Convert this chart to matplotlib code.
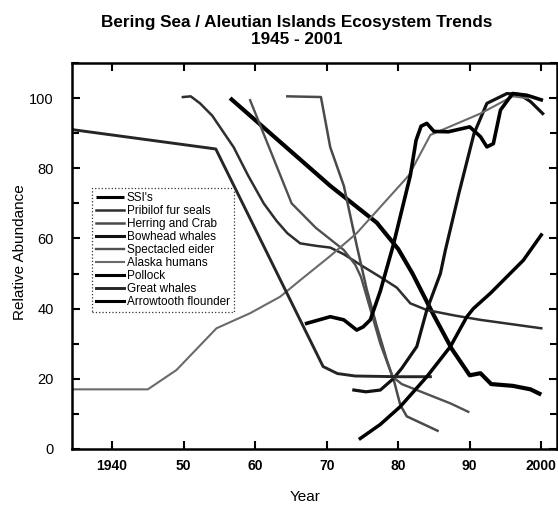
import matplotlib
matplotlib.use("Agg")
import matplotlib.pyplot as plt
from matplotlib.ticker import MultipleLocator, FixedLocator

plt.rcParams['font.family'] = ['Liberation Sans', 'DejaVu Sans']

# ---- data ----
ssi_years = [1956.5, 1970.5, 1977, 1980, 1982, 1985, 1987.5, 1990, 1991.5, 1993, 1996, 1998.5, 2000]
ssi_vals = [100, 75, 64.5, 57, 50, 38, 28.5, 21, 21.6, 18.5, 18, 17, 15.5]

fur_years = [1949.9, 1951, 1952.3, 1954, 1955.5, 1957, 1959, 1961.2, 1963, 1964.5, 1966.3, 1968.5, 1970.5, 1972.4, 1975.1, 1977.5, 1979.8, 1981.7, 1984, 1988, 1991.5, 2000]
fur_vals = [100.3, 100.5, 98.5, 95, 90.5, 86, 78, 70, 65, 61.5, 58.6, 57.9, 57.4, 55.5, 52, 49, 46, 41.5, 39.6, 38, 36.8, 34.4]

herring_years = [1964.5, 1969.2, 1970.5, 1972.4, 1974.2, 1975.6, 1977, 1978.4, 1979.4, 1980.3, 1981.2, 1985.5]
herring_vals = [100.5, 100.3, 86, 75, 58, 45.5, 35, 25.4, 19.5, 12.5, 9.3, 5.2]

bowhead_years = [1973.8, 1975.5, 1977.5, 1979.3, 1980.5, 1982.6, 1984, 1985.9, 1986.6, 1988.5, 1990.6, 1992.4, 1995.2, 1997, 1998.5, 2000.2]
bowhead_vals = [16.8, 16.3, 16.8, 20, 23, 29.2, 39.6, 50, 56.7, 73, 89.9, 98.5, 101.3, 101, 99, 95.6]

eider_years = [1959.3, 1965.1, 1968.5, 1972.4, 1974, 1974.8, 1975.8, 1977.5, 1979.2, 1980.5, 1982.6, 1987.3, 1989.8]
eider_vals = [99.4, 70, 63, 56.7, 52.5, 49, 42, 30, 20.6, 18.5, 16.8, 13, 10.6]

humans_years = [1934.5, 1945, 1949, 1954.6, 1959.3, 1963.5, 1966.3, 1970.5, 1974.2, 1981.5, 1984.5, 1991.5, 1996, 1998]
humans_vals = [17, 17, 22.5, 34.4, 38.7, 43.4, 48.1, 55, 61.5, 78, 89.5, 95.6, 100.5, 100]

pollock_years = [1967.2, 1970.5, 1972.4, 1974.2, 1975.1, 1976.1, 1977.5, 1979.3, 1981.7, 1982.5, 1983.2, 1984, 1985, 1987, 1990, 1991.5, 1992.4, 1993.3, 1994.3, 1996, 1998, 2000]
pollock_vals = [35.8, 37.7, 36.8, 33.9, 34.8, 36.8, 45, 58, 78, 88, 92, 92.8, 90.5, 90.4, 91.8, 89, 86.1, 87, 96.6, 101.3, 100.8, 99.5]

whales_years = [1934.5, 1954.5, 1969.5, 1971.5, 1974, 1980, 1984.5]
whales_vals = [91, 85.5, 23.5, 21.5, 20.8, 20.6, 20.6]

arrow_years = [1974.7, 1977.5, 1980.3, 1982, 1984, 1987.3, 1989.6, 1990.5, 1992.9, 1997.5, 2000]
arrow_vals = [3, 7, 12.1, 16, 20.6, 29.2, 37.7, 40, 44.4, 53.8, 61]

labels = ["SSI's", "Pribilof fur seals", "Herring and Crab", "Bowhead whales",
          "Spectacled eider", "Alaska humans", "Pollock", "Great whales",
          "Arrowtooth flounder"]

x_ticks = [1940, 1950, 1960, 1970, 1980, 1990, 2000]
x_tick_labels = ["1940", "50", "60", "70", "80", "90", "2000"]
y_ticks = [0, 20, 40, 60, 80, 100]

# ---- figure ----
fig = plt.figure(figsize=(5.58, 5.09), dpi=100)
ax = fig.add_axes([72/558, 1-449/509, (557-72)/558, (449-63)/509])

series = [
    (ssi_years, ssi_vals, dict(color='black', lw=3.0, solid_capstyle='butt')),
    (fur_years, fur_vals, dict(color='#2e2e2e', lw=1.8)),
    (herring_years, herring_vals, dict(color='#4a4a4a', lw=1.8)),
    (bowhead_years, bowhead_vals, dict(color='#111111', lw=2.3)),
    (eider_years, eider_vals, dict(color='#505050', lw=1.7)),
    (humans_years, humans_vals, dict(color='#6a6a6a', lw=1.5)),
    (pollock_years, pollock_vals, dict(color='black', lw=2.6)),
    (whales_years, whales_vals, dict(color='#262626', lw=2.1)),
    (arrow_years, arrow_vals, dict(color='black', lw=2.5)),
]
for (xs, ys, st), lab in zip(series, labels):
    ax.plot(xs, ys, label=lab, **st)

ax.set_xlim(1934.4, 2002.2)
ax.set_ylim(0, 110)
ax.xaxis.set_major_locator(FixedLocator(x_ticks))
ax.set_xticklabels(x_tick_labels, fontweight='bold', fontsize=10)
ax.yaxis.set_major_locator(FixedLocator(y_ticks))
ax.yaxis.set_minor_locator(MultipleLocator(10))
for lab in ax.get_yticklabels():
    lab.set_fontsize(10.5)

ax.tick_params(axis='both', which='both', direction='in', top=True, right=True, width=1.5)
ax.tick_params(axis='both', which='major', length=6)
ax.tick_params(axis='both', which='minor', length=5)
ax.tick_params(axis='x', pad=7)
ax.tick_params(axis='y', pad=13)
for s in ax.spines.values():
    s.set_linewidth(1.8)

leg = ax.legend(loc='upper left', bbox_to_anchor=(0.041, 0.676), fontsize=8.5,
                frameon=True, fancybox=False, edgecolor='black',
                handlelength=2.4, handletextpad=0.2, labelspacing=0.08,
                borderpad=0.35, borderaxespad=0.0)
leg.get_frame().set_linestyle(':')
leg.get_frame().set_linewidth(0.9)
for h in leg.get_lines():
    h.set_linewidth(min(h.get_linewidth(), 2.2))

fig.text(297/558, 1-31/509, "Bering Sea / Aleutian Islands Ecosystem Trends\n1945 - 2001",
         ha='center', va='center', fontweight='bold', fontsize=12.3, linespacing=1.2)
fig.text(20/558, 1-252/509, "Relative Abundance", rotation=90, ha='center', va='center', fontsize=11)
fig.text(305/558, 1-497/509, "Year", ha='center', va='center', fontsize=11)

fig.savefig("out.png", dpi=100)
